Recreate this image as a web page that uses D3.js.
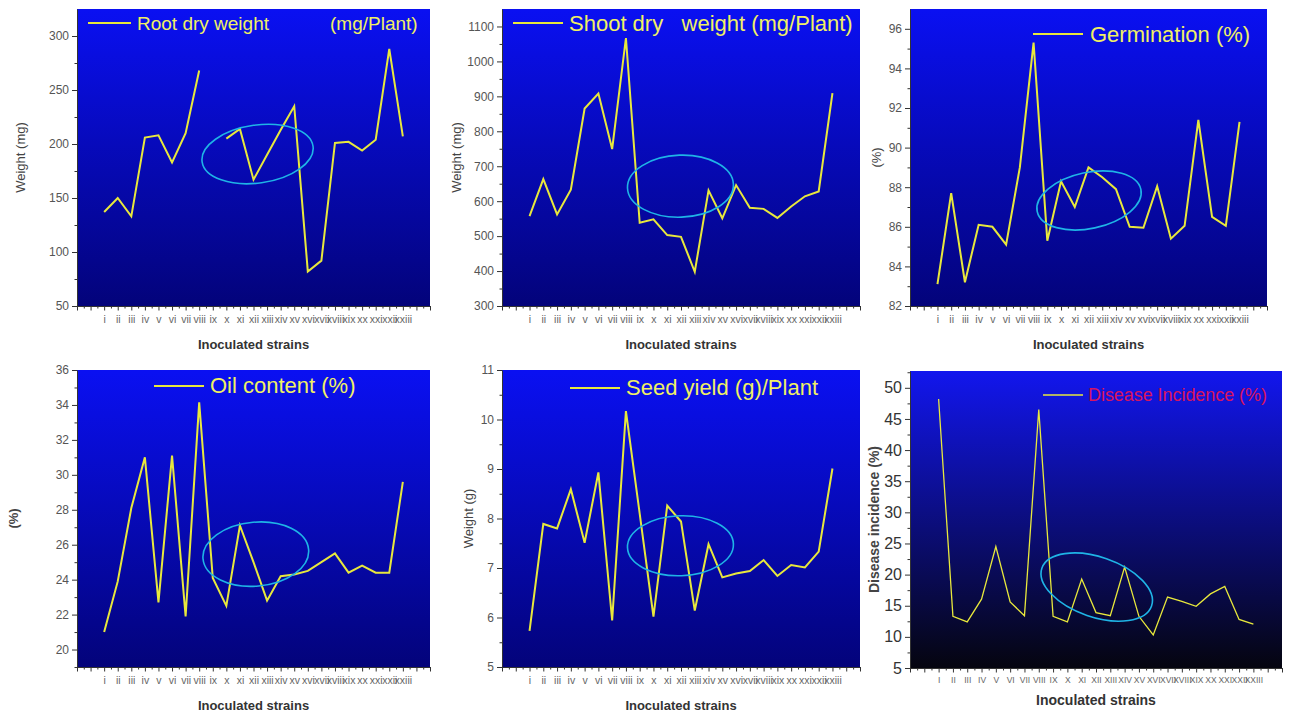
<!DOCTYPE html>
<html lang="en">
<head>
    <meta charset="UTF-8">
    <title>Inoculated strains</title>
    <script src="https://d3js.org/d3.v7.min.js"></script>
    <style>
        body { margin: 0; background: #fff; }
        svg { display: block; font-family: "Liberation Sans", Arial, sans-serif; }
        .tick text { fill: #555; }
        .axis path, .axis line { stroke: #333; }
    </style>
</head>
<body>
    <svg width="1290" height="716"></svg>

    <script>
        // categories
        const strainsLower = ["i", "ii", "iii", "iv", "v", "vi", "vii", "viii", "ix", "x", "xi", "xii",
            "xiii", "xiv", "xv", "xvi", "xvii", "xviii", "xix", "xx", "xxi", "xxii", "xxiii"];
        const strainsUpper = strainsLower.map(s => s.toUpperCase());

        // series values
        const rootDryWeight = [137, 150, 133, 206, 208, 183, 210, 268, null, 205, 214, 167, 190, 213, 235, 82, 92, 201, 202, 194, 204, 288, 207];
        const shootDryWeight = [557, 663, 562, 633, 865, 908, 749, 1067, 538, 548, 503, 498, 398, 631, 551, 646, 581, 578, 552, 585, 614, 628, 909];
        const germination = [83.1, 87.7, 83.2, 86.1, 86.0, 85.1, 89.0, 95.3, 85.3, 88.3, 87.0, 89.0, 88.5, 87.9, 86.0, 85.95, 88.05, 85.4, 86.05, 91.4, 86.5, 86.05, 91.3];
        const oilContent = [21.0, 23.9, 28.1, 31.0, 22.7, 31.1, 21.9, 34.15, 24.1, 22.5, 27.1, 25.0, 22.8, 24.2, 24.3, 24.5, 25.0, 25.5, 24.4, 24.8, 24.4, 24.4, 29.6];
        const seedYield = [5.73, 7.89, 7.80, 8.59, 7.51, 8.93, 5.94, 10.17, 8.1, 6.02, 8.26, 7.94, 6.14, 7.48, 6.81, 6.89, 6.94, 7.16, 6.84, 7.06, 7.01, 7.33, 9.01];
        const diseaseIncidence = [48.2, 13.3, 12.4, 16.05, 24.5, 15.6, 13.4, 46.5, 13.3, 12.4, 19.3, 13.9, 13.4, 21.2, 13.3, 10.3, 16.4, 15.7, 14.9, 16.9, 18.1, 12.8, 12.05];

        // y tick values
        const rootTicks = d3.range(50, 301, 50);
        const shootTicks = d3.range(300, 1101, 100);
        const germTicks = d3.range(82, 97, 2);
        const oilTicks = d3.range(20, 37, 2);
        const seedTicks = d3.range(5, 12, 1);
        const diseaseTicks = d3.range(5, 51, 5);

        const svg = d3.select("svg");
        const defs = svg.append("defs");

        function gradient(id, top, bottom) {
            const g = defs.append("linearGradient").attr("id", id)
                .attr("x1", 0).attr("y1", 0).attr("x2", 0).attr("y2", 1);
            g.append("stop").attr("offset", "0%").attr("stop-color", top);
            g.append("stop").attr("offset", "100%").attr("stop-color", bottom);
        }
        gradient("bgBlue", "#0a10f2", "#03037a");
        gradient("bgDark", "#1216ee", "#05050f");

        const panels = [
            {
                values: rootDryWeight, cats: strainsLower, yTicks: rootTicks, minorStep: 25,
                box: [77, 9, 430, 306], yDomain: [50, 325], bg: "bgBlue",
                yLabel: "Weight (mg)", yLabelX: 22, yLabelBold: false,
                legend: [{ text: "Root dry weight", x: 137 }, { text: "(mg/Plant)", x: 330 }],
                legendLine: [88, 131, 23], legendBase: 30, legendSize: 19,
                ellipse: { cx: 12.3, cy: 190.7, rx: 56, ry: 29, rot: -8 }
            },
            {
                values: shootDryWeight, cats: strainsLower, yTicks: shootTicks, minorStep: 50,
                box: [502, 9, 860, 306], yDomain: [300, 1150], bg: "bgBlue",
                yLabel: "Weight (mg)", yLabelX: 458, yLabelBold: false,
                legend: [{ text: "Shoot dry   weight (mg/Plant)", x: 569 }],
                legendLine: [513, 563, 23], legendBase: 31, legendSize: 22,
                ellipse: { cx: 11.96, cy: 643, rx: 53, ry: 31, rot: -2 }
            },
            {
                values: germination, cats: strainsLower, yTicks: germTicks, minorStep: 1,
                box: [910, 9, 1267, 306], yDomain: [82, 97], bg: "bgBlue",
                yLabel: "(%)", yLabelX: 878, yLabelBold: false,
                legend: [{ text: "Germination (%)", x: 1090 }],
                legendLine: [1033, 1083, 34], legendBase: 42, legendSize: 22,
                ellipse: { cx: 12.04, cy: 87.33, rx: 53, ry: 28, rot: -12 }
            },
            {
                values: oilContent, cats: strainsLower, yTicks: oilTicks, minorStep: 1,
                box: [77, 370, 430, 667], yDomain: [19, 36], bg: "bgBlue",
                yLabel: "(%)", yLabelX: 15, yLabelBold: true,
                legend: [{ text: "Oil content (%)", x: 210 }],
                legendLine: [154, 204, 386], legendBase: 393, legendSize: 22,
                ellipse: { cx: 12.17, cy: 25.46, rx: 53, ry: 32, rot: -5 }
            },
            {
                values: seedYield, cats: strainsLower, yTicks: seedTicks, minorStep: 0.5,
                box: [502, 370, 860, 667], yDomain: [5, 11], bg: "bgBlue",
                yLabel: "Weight (g)", yLabelX: 470, yLabelBold: false,
                legend: [{ text: "Seed yield (g)/Plant", x: 626 }],
                legendLine: [570, 620, 388], legendBase: 395, legendSize: 22,
                ellipse: { cx: 11.96, cy: 7.45, rx: 53, ry: 30, rot: -2 }
            },
            {
                values: diseaseIncidence, cats: strainsUpper, yTicks: diseaseTicks, minorStep: 2.5,
                box: [910, 371, 1282, 668], yDomain: [5, 52.7], bg: "bgDark",
                yLabel: "Disease incidence (%)", yLabelX: 875, yLabelBold: true,
                legend: [{ text: "Disease Incidence (%)", x: 1088, color: "#d8145e", width: 179 }],
                legendLine: [1043, 1083, 395], legendBase: 401, legendSize: 18,
                ellipse: { cx: 12.05, cy: 18.0, rx: 58, ry: 30, rot: 19 },
                thin: true
            }
        ];

        panels.forEach(function (p) {
            const [x0, y0, x1, y1] = p.box;
            const x = d3.scaleLinear().domain([-1, 25]).range([x0, x1]);
            const y = d3.scaleLinear().domain(p.yDomain).range([y1, y0]);
            const g = svg.append("g");

            g.append("rect")
                .attr("x", x0).attr("y", y0)
                .attr("width", x1 - x0).attr("height", y1 - y0)
                .attr("fill", "url(#" + p.bg + ")");

            // y axis (major + minor)
            const yMinor = d3.range(p.yDomain[0], p.yDomain[1], p.minorStep)
                .filter(v => !p.yTicks.includes(v));
            g.append("g").attr("class", "axis")
                .attr("transform", "translate(" + x0 + ",0)")
                .call(d3.axisLeft(y).tickValues(yMinor).tickSize(2.5).tickFormat(""))
                .select(".domain").remove();
            const ya = g.append("g").attr("class", "axis")
                .attr("transform", "translate(" + x0 + ",0)")
                .call(d3.axisLeft(y).tickValues(p.yTicks).tickSize(5).tickSizeOuter(0)
                    .tickPadding(3).tickFormat(d => String(d)));
            ya.selectAll("text")
                .attr("font-size", p.thin ? 16 : 12)
                .style("fill", p.thin ? "#333" : "#555");

            // x axis ticks (integers + halves)
            g.append("g").attr("class", "axis")
                .attr("transform", "translate(0," + y1 + ")")
                .call(d3.axisBottom(x).tickValues(d3.range(-0.5, 25, 1)).tickSize(2.5).tickFormat(""))
                .select(".domain").remove();
            g.append("g").attr("class", "axis")
                .attr("transform", "translate(0," + y1 + ")")
                .call(d3.axisBottom(x).tickValues(d3.range(-1, 26, 1)).tickSize(4.5).tickSizeOuter(0).tickFormat(""));

            // category labels
            g.append("g")
                .attr("transform", "translate(0," + y1 + ")")
                .call(d3.axisBottom(x).tickValues(d3.range(1, p.cats.length + 1))
                    .tickSize(0).tickPadding(p.thin ? 9 : 10).tickFormat(d => p.cats[d - 1]))
                .call(a => a.select(".domain").remove())
                .selectAll("text")
                .attr("font-size", p.thin ? 8.5 : 10.5)
                .style("fill", "#666");

            // axis titles
            g.append("text")
                .attr("x", (x0 + x1) / 2)
                .attr("y", y1 + (p.thin ? 37 : 43))
                .attr("text-anchor", "middle")
                .attr("font-size", p.thin ? 14 : 13)
                .attr("font-weight", "bold")
                .attr("fill", "#333")
                .text("Inoculated strains");

            g.append("text")
                .attr("transform", "translate(" + p.yLabelX + "," + ((y0 + y1) / 2) + ") rotate(-90)")
                .attr("text-anchor", "middle")
                .attr("dominant-baseline", "middle")
                .attr("font-size", p.thin ? 14 : 13)
                .attr("font-weight", p.yLabelBold ? "bold" : "normal")
                .attr("fill", "#444")
                .text(p.yLabel);

            // data line
            const line = d3.line()
                .defined(d => d != null)
                .x((d, i) => x(i + 1))
                .y(d => y(d));
            g.append("path")
                .datum(p.values)
                .attr("fill", "none")
                .attr("stroke", "#e8e83c")
                .attr("stroke-width", p.thin ? 1.3 : 2)
                .attr("stroke-linejoin", "miter")
                .attr("d", line);

            // highlight ellipse
            const e = p.ellipse;
            g.append("ellipse")
                .attr("transform", "translate(" + x(e.cx) + "," + y(e.cy) + ") rotate(" + e.rot + ")")
                .attr("rx", e.rx).attr("ry", e.ry)
                .attr("fill", "none")
                .attr("stroke", "#1fb4e6")
                .attr("stroke-width", 1.6);

            // legend
            const [lx0, lx1, ly] = p.legendLine;
            g.append("line")
                .attr("x1", lx0).attr("x2", lx1).attr("y1", ly).attr("y2", ly)
                .attr("stroke", "#e8e83c").attr("stroke-width", p.thin ? 1.3 : 2);
            p.legend.forEach(function (t) {
                const txt = g.append("text")
                    .attr("x", t.x).attr("y", p.legendBase)
                    .attr("font-size", p.legendSize)
                    .attr("fill", t.color || "#f0f064")
                    .style("white-space", "pre")
                    .text(t.text);
                if (t.width) txt.attr("textLength", t.width).attr("lengthAdjust", "spacing");
            });
        });
    </script>
</body>
</html>
